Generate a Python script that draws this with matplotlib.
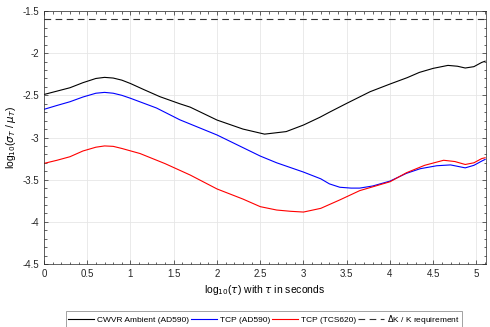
import numpy as np
import matplotlib
matplotlib.use("Agg")
import matplotlib.pyplot as plt
from matplotlib.ticker import MultipleLocator, FormatStrFormatter

plt.rcParams['font.family'] = ['Liberation Sans', 'DejaVu Sans']
plt.rcParams['axes.unicode_minus'] = False
plt.rcParams['mathtext.fontset'] = 'dejavusans'

# log10(tau) sample positions and log10(sigma/mu) readings
x_cwvr = [0, 0.15, 0.3, 0.45, 0.6, 0.7, 0.8, 0.9, 1.0, 1.15, 1.34, 1.57, 1.69, 2.0,
          2.3, 2.55, 2.8, 3.0, 3.19, 3.3, 3.5, 3.77, 4.0, 4.2, 4.34, 4.5, 4.67,
          4.78, 4.87, 4.97, 5.06, 5.1]
y_cwvr = [-2.49, -2.45, -2.41, -2.35, -2.30, -2.287, -2.295, -2.32, -2.36, -2.43,
          -2.516, -2.60, -2.64, -2.793, -2.90, -2.96, -2.93, -2.852, -2.76, -2.70,
          -2.595, -2.457, -2.366, -2.29, -2.228, -2.18, -2.145, -2.155, -2.176,
          -2.16, -2.11, -2.095]

x_tcp_ad = [0, 0.15, 0.3, 0.45, 0.6, 0.7, 0.8, 0.9, 1.0, 1.3, 1.57, 2.0, 2.5, 2.69,
            3.0, 3.2, 3.3, 3.42, 3.55, 3.65, 3.8, 4.0, 4.19, 4.35, 4.54, 4.7, 4.87,
            4.97, 5.06, 5.1]
y_tcp_ad = [-2.666, -2.62, -2.576, -2.52, -2.475, -2.465, -2.475, -2.50, -2.535,
            -2.65, -2.79, -2.97, -3.22, -3.30, -3.41, -3.49, -3.55, -3.59, -3.60,
            -3.60, -3.575, -3.517, -3.425, -3.37, -3.335, -3.325, -3.36, -3.33,
            -3.28, -3.26]

x_tcp_tcs = [0, 0.15, 0.3, 0.45, 0.6, 0.7, 0.8, 0.9, 1.11, 1.4, 1.69, 2.0, 2.3, 2.5,
             2.69, 2.85, 3.0, 3.2, 3.42, 3.65, 4.0, 4.19, 4.4, 4.62, 4.75, 4.87,
             4.97, 5.06, 5.1]
y_tcp_tcs = [-3.307, -3.27, -3.228, -3.16, -3.115, -3.10, -3.105, -3.13, -3.19,
             -3.31, -3.445, -3.61, -3.73, -3.82, -3.86, -3.875, -3.884, -3.84,
             -3.74, -3.63, -3.525, -3.418, -3.33, -3.27, -3.285, -3.32, -3.30,
             -3.25, -3.24]

requirement = -1.59

fig = plt.figure(figsize=(4.9, 3.27), dpi=100)
ax = fig.add_axes([44/490, 1 - 264/327, 442/490, 253/327])

ax.plot(x_cwvr, y_cwvr, color='k', lw=0.8, label='CWVR Ambient (AD590)')
ax.plot(x_tcp_ad, y_tcp_ad, color='b', lw=0.8, label='TCP (AD590)')
ax.plot(x_tcp_tcs, y_tcp_tcs, color='r', lw=0.8, label='TCP (TCS620)')
ax.axhline(requirement, color='#333333', lw=0.8, ls=(0, (6, 4)),
           label=r'$\Delta$K / K requirement')

ax.set_xlim(0, 5.11)
ax.set_ylim(-4.5, -1.5)
ax.xaxis.set_major_locator(MultipleLocator(0.5))
ax.xaxis.set_minor_locator(MultipleLocator(0.1))
ax.yaxis.set_major_locator(MultipleLocator(0.5))
ax.yaxis.set_minor_locator(MultipleLocator(0.1))
ax.xaxis.set_major_formatter(FormatStrFormatter('%g'))
ax.yaxis.set_major_formatter(FormatStrFormatter('%g'))
ax.tick_params(which='both', direction='in', top=True, right=True,
               labelsize=7, colors='#262626', width=0.5)
ax.tick_params(which='major', length=3)
ax.tick_params(which='minor', length=1.8)
ax.grid(True, which='major', color='#e6e6e6', lw=0.6)
for s in ax.spines.values():
    s.set_color('#262626')
    s.set_linewidth(0.5)

ax.set_xlabel(r'log$_{10}$($\tau$) with $\tau$ in seconds', fontsize=7.5, labelpad=3)
ax.set_ylabel(r'log$_{10}$($\sigma_T$ / $\mu_T$)', fontsize=7.5, labelpad=3)

leg = ax.legend(loc='upper center', bbox_to_anchor=(0.497, -0.186), ncol=4,
                fontsize=6, frameon=True, fancybox=False, edgecolor='#777777',
                handlelength=3.2, columnspacing=0.2, handletextpad=0.3,
                borderpad=0.25, borderaxespad=0)
leg.get_frame().set_linewidth(0.6)

fig.savefig('out.png', dpi=100)
